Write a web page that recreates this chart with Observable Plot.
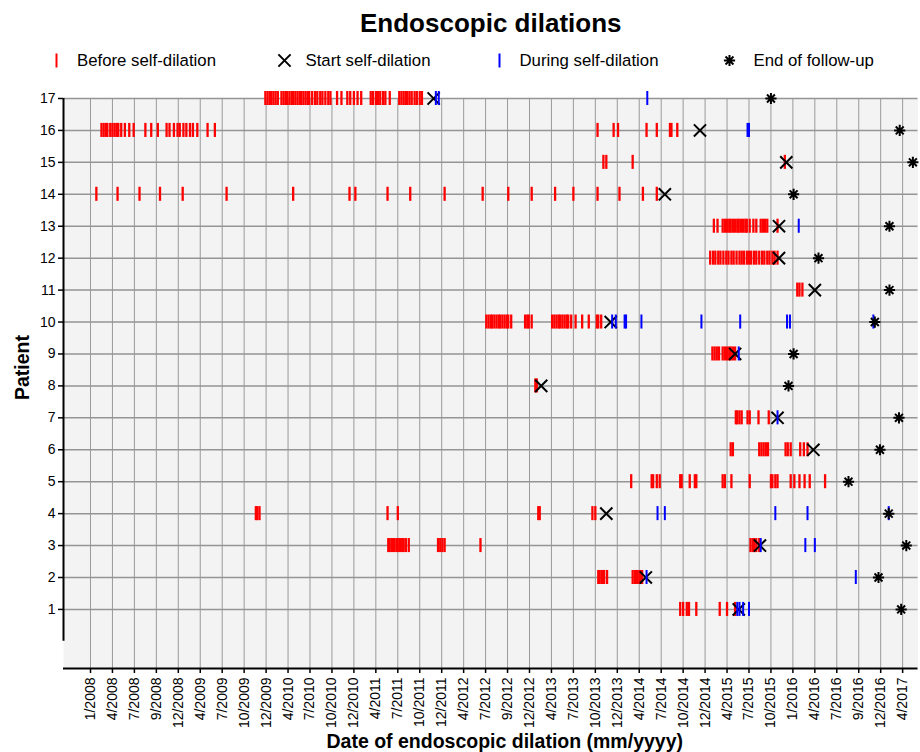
<!DOCTYPE html>
<html>
<head>
<meta charset="utf-8">
<script src="https://cdn.jsdelivr.net/npm/d3@7"></script>
<script src="https://cdn.jsdelivr.net/npm/@observablehq/plot@0.6"></script>
<style>
  html, body { margin: 0; padding: 0; background: #fff; }
  #chart { width: 920px; height: 752px; }
</style>
</head>
<body>
<div id="chart"></div>
<script>
// ---------- data (x values are months since 1/2008) ----------
const patients = [1,2,3,4,5,6,7,8,9,10,11,12,13,14,15,16,17];

const tickLabels = ["1/2008","4/2008","7/2008","9/2008","12/2008","4/2009","7/2009","10/2009","12/2009",
  "4/2010","7/2010","10/2010","12/2010","4/2011","7/2011","10/2011","12/2011","4/2012","7/2012","9/2012",
  "12/2012","4/2013","7/2013","10/2013","12/2013","4/2014","7/2014","10/2014","12/2014","4/2015","7/2015",
  "10/2015","1/2016","4/2016","7/2016","9/2016","12/2016","4/2017"];

const beforeSelfDilation = [
  [1, [80.6, 81.0, 81.5, 81.8, 82.8, 86.0, 87.0, 88.1]],
  [2, [69.4, 69.6, 69.9, 70.2, 70.6, 74.1, 74.4, 74.7, 75.0, 75.2, 75.4]],
  [3, [40.7, 40.9, 41.2, 41.5, 41.8, 42.0, 42.3, 42.6, 42.8, 43.1, 43.5, 47.5, 47.8, 48.1, 48.4, 53.3, 90.2, 90.5, 90.7, 91.0, 91.4]],
  [4, [22.6, 22.8, 23.1, 40.6, 42.0, 61.2, 61.4, 68.6, 69.0]],
  [5, [73.9, 76.7, 76.9, 77.4, 77.8, 80.6, 80.8, 81.9, 82.6, 82.8, 86.4, 86.7, 87.6, 90.1, 93.0, 93.2, 93.6, 93.9, 95.7, 96.2, 96.9, 97.6, 98.3, 100.4]],
  [6, [87.5, 87.8, 91.4, 91.7, 92.0, 92.3, 92.6, 95.0, 95.3, 95.7, 97.0, 97.5, 98.0]],
  [7, [88.2, 88.4, 88.7, 89.0, 89.8, 90.1, 91.3, 92.7]],
  [8, [60.8, 61.0]],
  [9, [85.0, 85.3, 85.6, 85.9, 86.4, 86.7, 87.0, 87.3, 87.5, 87.8, 88.1]],
  [10, [54.1, 54.4, 54.7, 54.9, 55.2, 55.5, 55.8, 56.0, 56.3, 56.6, 56.9, 57.1, 57.5, 59.4, 59.7, 59.9, 60.3,
        63.1, 63.4, 63.7, 64.0, 64.2, 64.5, 64.8, 65.1, 65.3, 65.7, 66.3, 67.2, 68.1, 69.2, 69.4, 69.8]],
  [11, [96.6, 96.9, 97.3]],
  [12, [84.7, 85.1, 85.4, 85.8, 86.1, 86.5, 86.9, 87.2, 87.6, 87.9, 88.3, 88.7, 89.0, 89.3, 89.7, 90.0, 90.3,
        90.7, 91.0, 91.4, 91.8, 92.1, 92.5, 92.8, 93.2, 93.5, 93.9]],
  [13, [85.2, 85.7, 86.4, 86.7, 87.0, 87.3, 87.5, 87.8, 88.1, 88.4, 88.6, 88.9, 89.2, 89.5, 89.7, 90.1, 90.6,
        91.0, 91.6, 91.9, 92.2, 92.5, 93.9]],
  [14, [0.8, 3.7, 6.7, 9.5, 12.6, 18.6, 27.7, 35.4, 36.2, 40.6, 43.7, 48.4, 53.6, 57.1, 60.3, 63.5, 66.0, 69.3, 72.3, 75.5, 77.4]],
  [15, [70.1, 70.5, 74.1, 94.9]],
  [16, [1.5, 1.8, 2.1, 2.3, 2.7, 3.0, 3.3, 3.6, 3.8, 4.2, 4.7, 5.3, 5.9, 7.5, 8.3, 9.2, 10.4, 10.8, 11.4, 11.9,
        12.2, 12.7, 13.1, 13.6, 14.0, 14.6, 16.0, 17.0, 69.3, 71.5, 72.1, 76.0, 77.4, 79.2, 79.4, 80.2]],
  [17, [23.9, 24.2, 24.5, 24.7, 25.0, 25.3, 25.6, 26.1, 26.4, 26.7, 26.9, 27.2, 27.5, 27.7, 28.0, 28.3, 28.6,
        28.8, 29.1, 29.4, 29.7, 29.9, 30.3, 30.7, 31.0, 31.4, 31.7, 32.1, 32.5, 32.8, 33.7, 34.3, 35.1, 35.5,
        36.0, 36.5, 37.0, 38.3, 38.6, 39.0, 39.3, 39.6, 40.0, 40.3, 40.9, 42.2, 42.5, 42.8, 43.1, 43.3, 43.6,
        43.9, 44.3, 44.6, 45.0, 45.3]]
];

// one value per patient (1..17); null = none
const startSelfDilation = [88.6, 75.9, 91.5, 70.5, null, 98.8, 93.9, 61.6, 88.1, 71.1, 99.0, 94.1, 94.1, 78.5, 95.1, 83.3, 46.9];

const duringSelfDilation = [
  [1, [88.4, 88.7, 89.2, 90.0]],
  [2, [76.0, 104.6]],
  [3, [91.6, 97.7, 99.0]],
  [4, [77.5, 78.5, 93.6, 98.0, 109.1]],
  [7, [93.9]],
  [9, [88.6]],
  [10, [71.3, 71.8, 73.0, 73.2, 75.3, 83.5, 88.8, 95.2, 95.6, 107.0]],
  [13, [96.8]],
  [16, [89.8, 90.0]],
  [17, [47.2, 47.6, 76.1]]
];

const endFollowUp = [110.8, 107.7, 111.5, 109.1, 103.6, 107.9, 110.5, 95.4, 96.1, 107.2, 109.2, 99.5, 109.2, 96.1, 112.4, 110.6, 93.0];

const legendLabels = ["Before self-dilation", "Start self-dilation", "During self-dilation", "End of follow-up"];

// ---------- derived tables ----------
const flatten = rows => rows.flatMap(([p, ms]) => ms.map(m => ({p, m})));
const before = flatten(beforeSelfDilation);
const during = flatten(duringSelfDilation);
const starts = patients.map((p, i) => ({p, m: startSelfDilation[i]})).filter(d => d.m != null);
const ends = patients.map((p, i) => ({p, m: endFollowUp[i]}));
const tickMonths = tickLabels.map((_, i) => i * 3);

// ---------- symbols ----------
const asteriskSymbol = {
  draw(ctx, size) {
    const r = Math.sqrt(size / Math.PI), d = r * Math.SQRT1_2;
    ctx.moveTo(-r, 0); ctx.lineTo(r, 0);
    ctx.moveTo(0, -r); ctx.lineTo(0, r);
    ctx.moveTo(-d, -d); ctx.lineTo(d, d);
    ctx.moveTo(-d, d); ctx.lineTo(d, -d);
  }
};
const vlineSymbol = {
  draw(ctx, size) {
    const r = Math.sqrt(size / Math.PI);
    ctx.moveTo(0, -r); ctx.lineTo(0, r);
  }
};

const H = 0.22; // half height of tick marks in patient units
const font = "'Liberation Sans', Arial, Helvetica, sans-serif";

const legendX = [-7, 221, 436, 666];      // marker offsets from frame left
const legendTextX = [13.5, 242, 456, 690];

const chart = Plot.plot({
  width: 920,
  height: 752,
  marginLeft: 63,
  marginRight: 2.5,
  marginTop: 98,
  marginBottom: 84,
  style: {fontFamily: font, fontSize: "14px", background: "white", color: "black"},
  x: {domain: [-3.69, 113.1]},
  y: {domain: [-0.85, 17]},
  marks: [
    Plot.frame({fill: "#f3f3f3", stroke: null}),
    Plot.gridX(tickMonths, {stroke: "#9a9a9a", strokeOpacity: 1, strokeWidth: 1}),
    Plot.gridY(patients, {stroke: "#959595", strokeOpacity: 1, strokeWidth: 1.5}),
    Plot.ruleX([-3.69], {y1: 0, y2: 17, stroke: "black", strokeWidth: 2}),
    Plot.ruleY([-0.85], {stroke: "black", strokeWidth: 2}),
    Plot.axisX(tickMonths, {
      tickFormat: d => tickLabels[Math.round(d / 3)],
      tickRotate: -90, tickSize: 5, tickPadding: 4, fontSize: 14,
      label: null, stroke: "black", strokeWidth: 1.5
    }),
    Plot.axisY(patients, {
      tickSize: 5, tickPadding: 3, fontSize: 14, label: null, stroke: "black", strokeWidth: 1.5
    }),
    // marks
    Plot.ruleX(before, {x: "m", y1: d => d.p - H, y2: d => d.p + H, stroke: "red", strokeWidth: 2.3,
      shapeRendering: "geometricPrecision"}),
    Plot.dot(starts, {x: "m", y: "p", symbol: "times", r: 5.6, stroke: "black", strokeWidth: 2}),
    Plot.ruleX(during, {x: "m", y1: d => d.p - H, y2: d => d.p + H, stroke: "blue", strokeWidth: 2}),
    Plot.dot(ends, {x: "m", y: "p", symbol: asteriskSymbol, r: 5.6, stroke: "black", strokeWidth: 2}),
    // title
    Plot.text(["Endoscopic dilations"], {text: d => d, frameAnchor: "top", dy: -75, lineAnchor: "middle",
      textAnchor: "middle", fontSize: 26, fontWeight: "bold", fill: "black"}),
    // legend
    Plot.dot([0], {frameAnchor: "top-left", dx: legendX[0], dy: -38, symbol: vlineSymbol, r: 7, stroke: "red", strokeWidth: 2}),
    Plot.dot([0], {frameAnchor: "top-left", dx: legendX[1], dy: -38, symbol: "times", r: 5.6, stroke: "black", strokeWidth: 2}),
    Plot.dot([0], {frameAnchor: "top-left", dx: legendX[2], dy: -38, symbol: vlineSymbol, r: 7, stroke: "blue", strokeWidth: 2}),
    Plot.dot([0], {frameAnchor: "top-left", dx: legendX[3], dy: -38, symbol: asteriskSymbol, r: 5.6, stroke: "black", strokeWidth: 2}),
    ...legendLabels.map((t, i) => Plot.text([t], {text: d => d, frameAnchor: "top-left", dx: legendTextX[i], dy: -38,
      lineAnchor: "middle", textAnchor: "start", fontSize: 16.8, fill: "black"})),
    // axis titles
    Plot.text(["Patient"], {text: d => d, frameAnchor: "left", dx: -41, dy: -16, rotate: -90,
      lineAnchor: "middle", textAnchor: "middle", fontSize: 19.5, fontWeight: "bold", fill: "black"}),
    Plot.text(["Date of endoscopic dilation (mm/yyyy)"], {text: d => d, frameAnchor: "bottom", dx: 14, dy: 73,
      lineAnchor: "middle", textAnchor: "middle", fontSize: 19.5, fontWeight: "bold", fill: "black"})
  ]
});
document.getElementById("chart").appendChild(chart);
</script>
</body>
</html>
